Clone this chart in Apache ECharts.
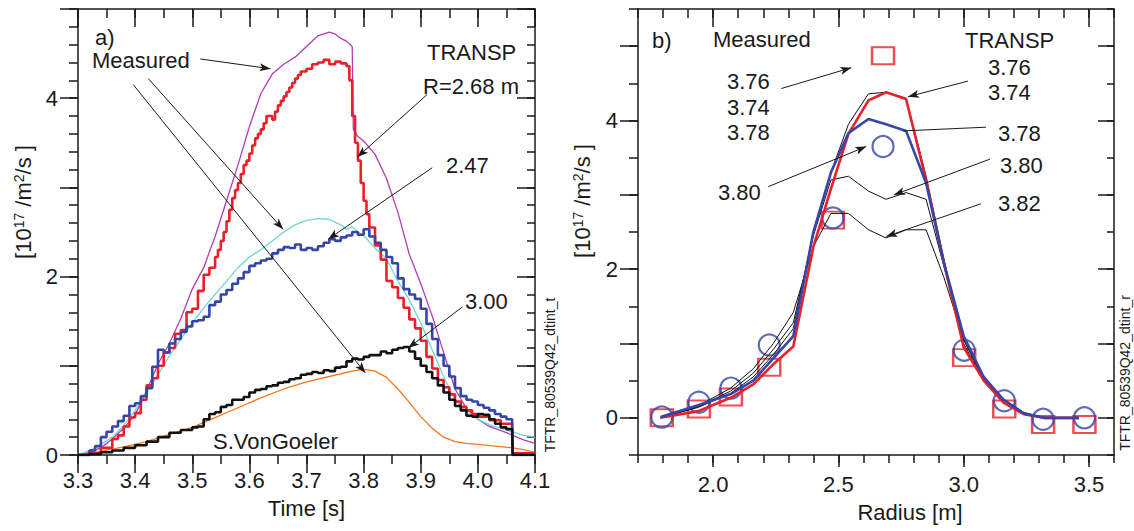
<!DOCTYPE html>
<html>
<head>
<meta charset="utf-8">
<script src="https://cdn.jsdelivr.net/npm/echarts@6/dist/echarts.min.js"></script>
<style>html,body{margin:0;padding:0;background:#fff}#c{width:1134px;height:531px}</style>
</head>
<body>
<div id="c"></div>
<script>
// ---------- Panel a): time traces [time s, value 1e17 /m^2/s] ----------
const measured268 = [[3.30,0],[3.32,0.03],[3.34,0.08],[3.36,0.18],[3.38,0.30],[3.40,0.45],[3.42,0.72],[3.44,1.02],[3.46,1.25],[3.48,1.53],[3.50,1.86],[3.52,2.10],[3.54,2.45],[3.56,2.85],[3.58,3.25],[3.60,3.68],[3.62,4.05],[3.64,4.27],[3.66,4.38],[3.68,4.46],[3.70,4.58],[3.72,4.70],[3.74,4.74],[3.75,4.72],[3.76,4.67],[3.77,4.64],[3.78,4.58],[3.782,3.65],[3.79,3.57],[3.80,3.52],[3.82,3.37],[3.84,3.10],[3.86,2.72],[3.88,2.25],[3.90,1.92],[3.92,1.56],[3.94,1.15],[3.96,0.74],[3.98,0.52],[4.00,0.40],[4.02,0.32],[4.05,0.25],[4.08,0.17],[4.10,0.13]];
const measured247 = [[3.30,0],[3.33,0.08],[3.36,0.20],[3.38,0.33],[3.40,0.50],[3.42,0.70],[3.44,0.90],[3.46,1.11],[3.48,1.30],[3.50,1.48],[3.52,1.65],[3.54,1.80],[3.56,1.95],[3.58,2.10],[3.60,2.22],[3.62,2.30],[3.64,2.40],[3.66,2.50],[3.68,2.58],[3.70,2.63],[3.72,2.65],[3.74,2.64],[3.76,2.58],[3.77,2.53],[3.78,2.56],[3.79,2.50],[3.80,2.46],[3.82,2.32],[3.84,2.20],[3.86,1.95],[3.88,1.74],[3.90,1.48],[3.92,1.18],[3.94,0.88],[3.96,0.62],[3.98,0.48],[4.00,0.40],[4.02,0.34],[4.05,0.28],[4.08,0.22],[4.10,0.20]];
const measured300 = [[3.30,0],[3.34,0.04],[3.38,0.09],[3.42,0.15],[3.46,0.23],[3.50,0.31],[3.54,0.42],[3.58,0.53],[3.62,0.64],[3.66,0.74],[3.70,0.82],[3.74,0.88],[3.78,0.94],[3.80,0.96],[3.82,0.94],[3.84,0.87],[3.86,0.74],[3.88,0.59],[3.90,0.43],[3.92,0.30],[3.94,0.20],[3.96,0.15],[3.98,0.13],[4.00,0.12],[4.03,0.10],[4.06,0.08],[4.08,0.06],[4.10,0.03]];
const transp268 = [[3.30,0],[3.32,0.02],[3.34,0.08],[3.36,0.18],[3.37,0.22],[3.38,0.32],[3.39,0.42],[3.40,0.47],[3.41,0.62],[3.42,0.78],[3.43,0.86],[3.44,1.00],[3.45,1.15],[3.46,1.20],[3.47,1.36],[3.48,1.40],[3.49,1.60],[3.50,1.64],[3.51,1.84],[3.52,2.02],[3.53,2.10],[3.54,2.22],[3.545,2.30],[3.55,2.40],[3.555,2.50],[3.56,2.62],[3.565,2.75],[3.57,2.88],[3.575,2.97],[3.58,3.05],[3.585,3.15],[3.59,3.25],[3.595,3.30],[3.60,3.38],[3.605,3.47],[3.61,3.55],[3.615,3.60],[3.62,3.65],[3.625,3.72],[3.63,3.80],[3.64,3.76],[3.645,3.85],[3.65,3.92],[3.655,3.97],[3.66,4.02],[3.665,4.07],[3.67,4.12],[3.675,4.17],[3.68,4.22],[3.685,4.26],[3.69,4.30],[3.70,4.33],[3.71,4.38],[3.72,4.40],[3.73,4.43],[3.74,4.38],[3.75,4.41],[3.76,4.39],[3.77,4.36],[3.775,4.20],[3.78,3.80],[3.785,3.50],[3.79,3.30],[3.795,3.05],[3.80,2.85],[3.805,2.70],[3.81,2.55],[3.82,2.35],[3.83,2.19],[3.84,1.95],[3.85,1.88],[3.86,1.76],[3.87,1.65],[3.88,1.52],[3.89,1.42],[3.90,1.28],[3.91,1.10],[3.92,0.97],[3.93,0.84],[3.94,0.76],[3.95,0.68],[3.96,0.60],[3.97,0.54],[3.98,0.50],[3.99,0.46],[4.00,0.43],[4.02,0.39],[4.04,0.35],[4.06,0.31],[4.061,0.02],[4.10,0.02]];
const transp247 = [[3.30,0],[3.32,0.05],[3.33,0.10],[3.34,0.20],[3.35,0.26],[3.36,0.32],[3.37,0.38],[3.38,0.44],[3.39,0.55],[3.40,0.58],[3.41,0.66],[3.42,0.75],[3.43,0.99],[3.44,1.18],[3.45,1.15],[3.46,1.25],[3.47,1.30],[3.48,1.38],[3.49,1.44],[3.50,1.50],[3.51,1.51],[3.52,1.55],[3.53,1.68],[3.54,1.72],[3.55,1.80],[3.56,1.85],[3.57,1.92],[3.58,1.98],[3.59,2.05],[3.60,2.12],[3.61,2.15],[3.62,2.18],[3.63,2.20],[3.64,2.26],[3.65,2.30],[3.66,2.33],[3.67,2.32],[3.68,2.36],[3.69,2.30],[3.70,2.32],[3.71,2.30],[3.72,2.34],[3.73,2.38],[3.74,2.42],[3.75,2.40],[3.76,2.44],[3.77,2.46],[3.78,2.50],[3.79,2.47],[3.80,2.53],[3.81,2.45],[3.82,2.38],[3.83,2.30],[3.84,2.22],[3.85,2.15],[3.86,1.98],[3.87,1.86],[3.88,1.80],[3.89,1.75],[3.90,1.64],[3.91,1.47],[3.92,1.30],[3.93,1.12],[3.94,1.00],[3.95,0.88],[3.96,0.75],[3.97,0.66],[3.98,0.62],[3.99,0.60],[4.00,0.56],[4.01,0.53],[4.02,0.50],[4.03,0.46],[4.04,0.43],[4.05,0.40],[4.06,0.36],[4.061,0.0],[4.10,0.0]];
const transp300 = [[3.30,0],[3.32,0.01],[3.34,0.03],[3.36,0.05],[3.38,0.08],[3.40,0.11],[3.42,0.15],[3.44,0.20],[3.46,0.25],[3.48,0.28],[3.50,0.31],[3.51,0.32],[3.52,0.40],[3.53,0.46],[3.54,0.48],[3.55,0.54],[3.56,0.56],[3.57,0.62],[3.58,0.62],[3.59,0.65],[3.60,0.70],[3.61,0.73],[3.62,0.74],[3.63,0.77],[3.64,0.78],[3.65,0.81],[3.66,0.82],[3.67,0.85],[3.68,0.86],[3.69,0.90],[3.70,0.91],[3.71,0.93],[3.72,0.92],[3.73,0.95],[3.74,0.94],[3.75,0.98],[3.76,0.99],[3.77,1.05],[3.78,1.08],[3.79,1.07],[3.80,1.10],[3.81,1.12],[3.82,1.12],[3.83,1.16],[3.84,1.14],[3.85,1.18],[3.86,1.20],[3.87,1.21],[3.88,1.16],[3.89,1.08],[3.90,1.00],[3.91,0.93],[3.92,0.86],[3.93,0.78],[3.94,0.70],[3.95,0.62],[3.96,0.55],[3.97,0.50],[3.98,0.44],[3.99,0.43],[4.00,0.46],[4.01,0.45],[4.02,0.40],[4.03,0.35],[4.04,0.31],[4.05,0.29],[4.06,0.28],[4.061,0.0],[4.10,0.0]];

// ---------- Panel b): radial profiles ----------
const radiusGrid = [1.79,1.94,2.07,2.16,2.24,2.32,2.40,2.47,2.54,2.62,2.69,2.77,2.85,2.92,3.00,3.08,3.16,3.24,3.32,3.46];
const profile374 = [0,0.14,0.33,0.55,0.85,1.20,2.50,3.30,3.95,4.36,4.38,4.30,3.25,2.15,1.00,0.50,0.24,0.06,0,0];
const profile376 = [0,0.09,0.27,0.45,0.72,0.96,2.30,3.08,3.82,4.27,4.38,4.29,3.20,2.10,0.95,0.50,0.20,0.05,0,0];
const profile378 = [0.01,0.17,0.32,0.50,0.80,1.10,2.50,3.30,3.83,4.02,3.95,3.86,3.16,2.10,1.10,0.55,0.24,0.06,0,0];
const profile380 = [0,0.15,0.36,0.60,0.92,1.28,2.45,3.20,3.25,3.05,2.94,3.03,2.94,2.05,1.05,0.52,0.25,0.07,0,0];
const profile382 = [0,0.16,0.40,0.66,1.00,1.42,2.30,2.75,2.75,2.53,2.42,2.53,2.53,1.90,1.05,0.52,0.25,0.07,0,0];
const measRadius = [1.795,1.943,2.071,2.224,2.478,2.678,3.002,3.162,3.317,3.482];
const measSquares = [0,0.12,0.28,0.68,2.66,4.87,0.81,0.12,-0.09,-0.09];
const measCircles = [0.01,0.21,0.40,0.98,2.69,3.65,0.91,0.23,-0.02,0.0];

// ---------- annotation arrows (data coordinates) [x1,y1,x2,y2,arrowhead] ----------
const arrowsA = [[3.514,4.44,3.637,4.33,1],[3.423,4.22,3.659,2.53,1],[3.397,4.15,3.803,0.92,1],[3.911,4.04,3.789,3.34,1],[3.920,3.22,3.738,2.42,1],[3.973,1.66,3.878,1.20,1]];
const arrowsB = [[2.272,4.43,2.551,4.71,1],[2.220,3.11,2.611,3.65,1],[3.017,4.53,2.778,4.32,1],[3.089,3.91,2.758,3.86,0],[3.105,3.48,2.722,3.00,1],[3.069,2.88,2.691,2.44,1]];

// ---------- axis ticks ----------
const timeTicks = [3.3,3.4,3.5,3.6,3.7,3.8,3.9,4.0,4.1];
const radiusTicks = [2.0,2.5,3.0,3.5];
const leftYTicks = [0,1,2,3,4,5];
const leftYLabels = [0,2,4];
const rightYTicks = [0,1,2,3,4,5];
const rightYLabels = [0,2,4];

const FONT = '"Liberation Sans", Arial, Helvetica, sans-serif';
const INK = '#1a1a1a';
const RED = '#e8202a', BLUE = '#3446a8', MAG = '#b23cb8', CYAN = '#6fd6d8', ORANGE = '#f5781e';

function axisSet(kind, grid, min, max, minorStep, majorVals, labelVals, o) {
  const mainPos = kind === 'x' ? 'bottom' : 'left';
  const oppPos = kind === 'x' ? 'top' : 'right';
  const base = {type:'value', gridIndex:grid, min:min, max:max, splitLine:{show:false}, axisPointer:{show:false}};
  const line = {show:true, onZero:false, lineStyle:{color:INK, width:1.5}};
  const noLine = {show:false, onZero:false};
  const ts = {color:INK, width:1.5};
  const main = Object.assign({}, base, {
    position: mainPos, axisLine: line,
    axisTick: {show:true, customValues: majorVals, length: o.majorOut, lineStyle: ts},
    axisLabel: {show:true, customValues: labelVals, margin: o.margin, fontSize: 22, fontFamily: FONT, color: INK, formatter: o.fmt}
  });
  if (o.name) {
    main.name = o.name; main.nameLocation = 'middle'; main.nameGap = o.nameGap;
    main.nameTextStyle = {fontSize: 22, fontFamily: FONT, color: INK, padding: o.namePad || 0};
  }
  return [
    main,
    Object.assign({}, base, {position: mainPos, interval: minorStep, axisLine: noLine, axisTick:{show:true, length:o.minorOut, lineStyle:ts}, axisLabel:{show:false}}),
    Object.assign({}, base, {position: oppPos, axisLine: line, axisTick:{show:true, inside:true, customValues: majorVals, length:o.majorIn, lineStyle:ts}, axisLabel:{show:false}}),
    Object.assign({}, base, {position: oppPos, interval: minorStep, axisLine: noLine, axisTick:{show:true, inside:true, length:o.minorIn, lineStyle:ts}, axisLabel:{show:false}})
  ];
}

const xAxes = [].concat(
  axisSet('x', 0, 3.3, 4.1, 0.05, timeTicks, timeTicks, {majorOut:18, minorOut:9, majorIn:18, minorIn:9, margin:14, fmt:v=>v.toFixed(1), name:'Time [s]', nameGap:42}),
  axisSet('x', 1, 1.7, 3.6, 0.1, radiusTicks, radiusTicks, {majorOut:12, minorOut:8, majorIn:18, minorIn:9, margin:18, fmt:v=>v.toFixed(1), name:'Radius [m]', nameGap:46, namePad:[0,0,0,68]})
);
const yAxes = [].concat(
  axisSet('y', 0, 0, 5, 0.2, leftYTicks, leftYLabels, {majorOut:18, minorOut:9, majorIn:18, minorIn:8, margin:20, fmt:v=>String(Math.round(v))}),
  axisSet('y', 1, -0.5, 5.5, 0.5, rightYTicks, rightYLabels, {majorOut:18, minorOut:9, majorIn:16, minorIn:7, margin:20, fmt:v=>String(Math.round(v))})
);

function arrowData(list) {
  return list.map(a => [{coord:[a[0],a[1]], symbol:'none'}, {coord:[a[2],a[3]], symbol: a[4] ? 'arrow' : 'none'}]);
}
function lineSeries(name, data, color, width, xi, yi, step, extra) {
  return Object.assign({name, type:'line', xAxisIndex:xi, yAxisIndex:yi, data, step: step || false, symbol:'none', showSymbol:false,
    lineStyle:{color, width}, itemStyle:{color}, silent:true, animation:false, clip:true}, extra || {});
}
const markLineCommon = {silent:true, animation:false, symbolSize:[6,11], label:{show:false}, emphasis:{disabled:true}, lineStyle:{color:INK, width:1, type:'solid'}};

const zipR = (vals) => radiusGrid.map((r,i) => [r, vals[i]]);
const zipM = (vals) => measRadius.map((r,i) => [r, vals[i]]);

const series = [
  lineSeries('Measured R=2.68', measured268, MAG, 1.3, 0, 0, false, {markLine: Object.assign({}, markLineCommon, {data: arrowData(arrowsA)})}),
  lineSeries('Measured R=2.47', measured247, CYAN, 1.3, 0, 0),
  lineSeries('Measured R=3.00 (S.VonGoeler)', measured300, ORANGE, 1.3, 0, 0),
  lineSeries('TRANSP R=2.68', transp268, RED, 2.6, 0, 0, 'end'),
  lineSeries('TRANSP R=2.47', transp247, BLUE, 2.6, 0, 0, 'end'),
  lineSeries('TRANSP R=3.00', transp300, '#111', 2.6, 0, 0, 'end'),
  lineSeries('TRANSP 3.80', zipR(profile380), '#111', 1, 4, 4, false, {markLine: Object.assign({}, markLineCommon, {data: arrowData(arrowsB)})}),
  lineSeries('TRANSP 3.82', zipR(profile382), '#111', 1, 4, 4),
  lineSeries('TRANSP 3.74', zipR(profile374), '#111', 1, 4, 4),
  {name:'Measured squares', type:'scatter', xAxisIndex:4, yAxisIndex:4, data: zipM(measSquares), symbol:'rect', symbolSize:[22,17],
   itemStyle:{color:'rgba(0,0,0,0)', borderColor:RED, borderWidth:2.2}, silent:true, animation:false},
  {name:'Measured circles', type:'scatter', xAxisIndex:4, yAxisIndex:4, data: zipM(measCircles), symbol:'circle', symbolSize:21,
   itemStyle:{color:'rgba(0,0,0,0)', borderColor:BLUE, borderWidth:2.2}, silent:true, animation:false},
  lineSeries('TRANSP 3.76', zipR(profile376), RED, 2.6, 4, 4),
  lineSeries('TRANSP 3.78', zipR(profile378), BLUE, 2.6, 4, 4)
];

function txt(s, x, y, size, extra) {
  return Object.assign({type:'text', x, y, silent:true, style:{text:s, fontSize:size || 22, fontFamily:FONT, fill:INK, align:'left', verticalAlign:'middle'}}, extra || {});
}
const yName = '[10{s|17} /m{s|2}/s ]';
const richSup = {s:{fontSize:14, fontFamily:FONT, fill:INK, verticalAlign:'top', lineHeight:14}};

const graphic = [
  txt('a)', 95, 37), txt('Measured', 92, 60), txt('TRANSP', 427, 52), txt('R=2.68 m', 423, 86),
  txt('2.47', 446, 165), txt('3.00', 465, 301), txt('S.VonGoeler', 213, 441),
  txt('b)', 652, 40), txt('Measured', 713, 39), txt('3.76', 727, 81), txt('3.74', 727, 107), txt('3.78', 727, 132),
  txt('3.80', 718, 192), txt('TRANSP', 965, 40), txt('3.76', 988, 67), txt('3.74', 988, 92),
  txt('3.78', 998, 133), txt('3.80', 1000, 165), txt('3.82', 998, 203),
  {type:'text', x:23, y:202, rotation:Math.PI/2, silent:true, style:{text:yName, fontSize:22, fontFamily:FONT, fill:INK, align:'center', verticalAlign:'middle', rich:richSup}},
  {type:'text', x:582, y:201, rotation:Math.PI/2, silent:true, style:{text:yName, fontSize:22, fontFamily:FONT, fill:INK, align:'center', verticalAlign:'middle', rich:richSup}},
  {type:'text', x:550, y:375, rotation:Math.PI/2, scaleY:1.1, silent:true, style:{text:'TFTR_80539Q42_dtint_t', fontSize:14, fontFamily:FONT, fill:INK, align:'center', verticalAlign:'middle'}},
  {type:'text', x:1125, y:373, rotation:Math.PI/2, silent:true, style:{text:'TFTR_80539Q42_dtint_r', fontSize:14, fontFamily:FONT, fill:INK, align:'center', verticalAlign:'middle'}}
];

const chart = echarts.init(document.getElementById('c'), null, {renderer:'svg', width:1134, height:531});
chart.setOption({
  backgroundColor:'#fff',
  animation:false,
  grid:[{left:78, right:599, top:9, bottom:76, containLabel:false}, {left:638, right:20, top:9, bottom:76, containLabel:false}],
  xAxis: xAxes,
  yAxis: yAxes,
  series: series,
  graphic: graphic
});
</script>
</body>
</html>
